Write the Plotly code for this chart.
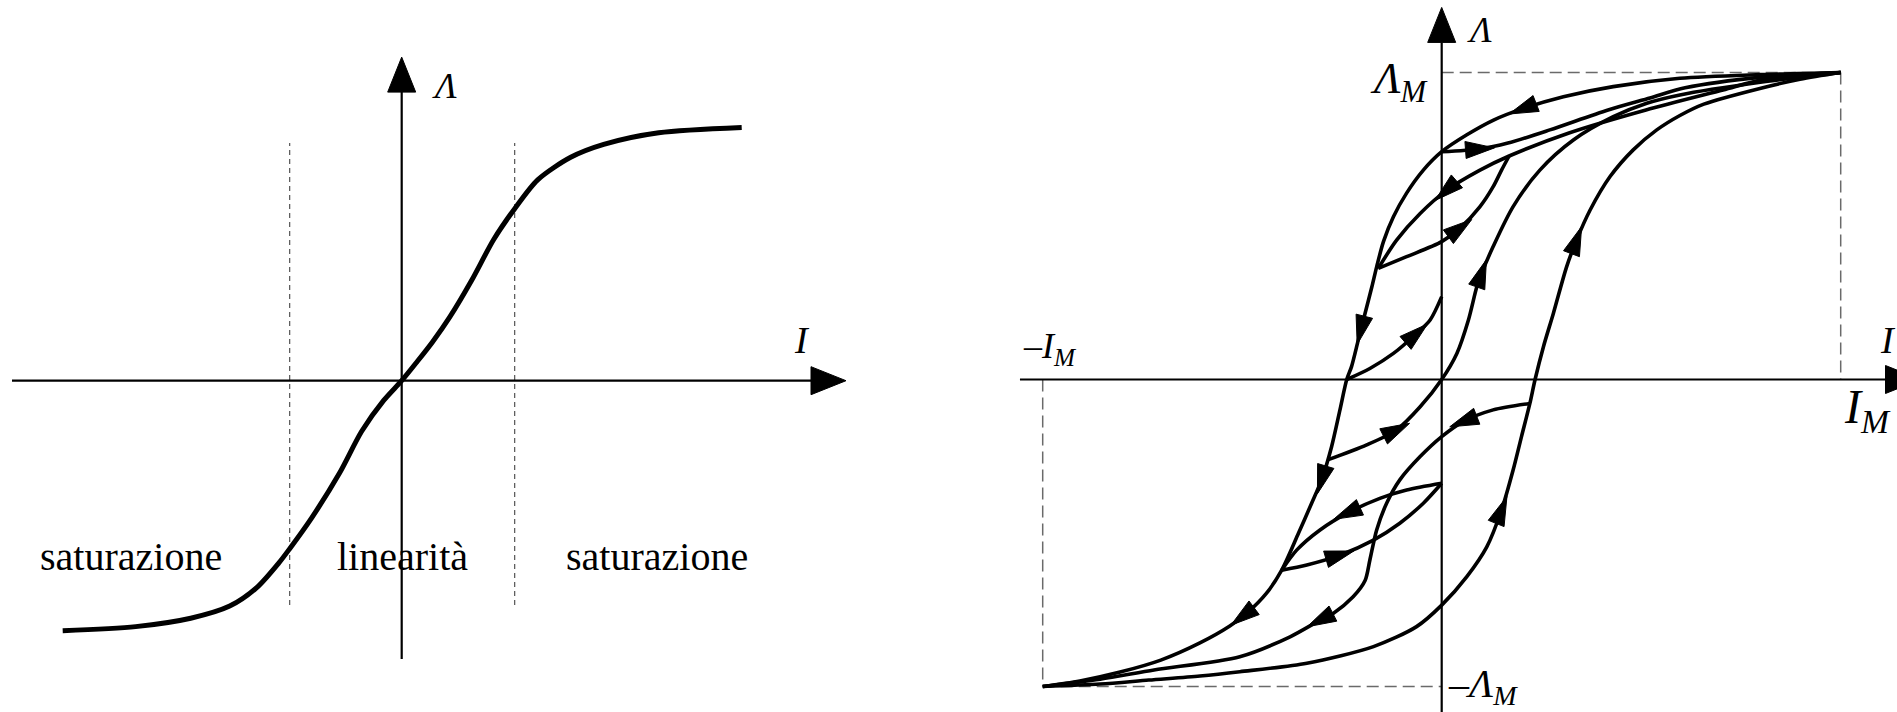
import plotly.graph_objects as go

FIG_W, FIG_H = 1897, 712
SERIF = "Liberation Serif"

# ---------------- left panel: magnetisation curve Λ(I) ----------------
curve_I = [-3.39, -2.66, -2.11, -1.72, -1.45, -1.23, -1.12, -0.90, -0.62, -0.40, -0.18, 0.00,
           0.15, 0.31, 0.48, 0.70, 0.92, 1.13, 1.36, 1.69, 2.02, 2.57, 3.40]
curve_L = [-0.988, -0.972, -0.939, -0.891, -0.818, -0.721, -0.664, -0.542, -0.364, -0.200, -0.078, 0.0,
           0.073, 0.154, 0.251, 0.397, 0.558, 0.680, 0.794, 0.883, 0.934, 0.980, 1.001]
linear_limits_I = [-1.12, 1.13]
linear_limits_L = [-0.887, 0.940]
zone_names = ["saturazione", "linearità", "saturazione"]
zone_I = [-2.71, 0.01, 2.55]
zone_L = [-0.693, -0.693, -0.693]

# ---------------- right panel: hysteresis loops (I/I_M, Λ/Λ_M) ----------------
desc_I = [1.0, 0.798, 0.597, 0.430, 0.305, 0.205, 0.130, 0.063, 0.0, -0.046, -0.088, -0.121, -0.146,
          -0.163, -0.175, -0.192, -0.209, -0.226, -0.238, -0.255, -0.276, -0.301, -0.326, -0.359,
          -0.401, -0.439, -0.489, -0.531, -0.606, -0.704, -0.806, -0.907, -1.0]
desc_L = [1.0, 0.993, 0.981, 0.954, 0.921, 0.883, 0.845, 0.797, 0.742, 0.682, 0.607, 0.530, 0.449,
          0.367, 0.302, 0.216, 0.129, 0.042, 0.0, -0.099, -0.219, -0.327, -0.403, -0.501,
          -0.621, -0.696, -0.762, -0.803, -0.858, -0.914, -0.953, -0.982, -1.0]

asc_I = [-1.0, -0.856, -0.734, -0.606, -0.506, -0.338, -0.171, -0.063, 0.0, 0.063, 0.113, 0.150, 0.179,
         0.200, 0.221, 0.234, 0.255, 0.280, 0.313, 0.338, 0.372, 0.422, 0.480, 0.539, 0.597, 0.657,
         0.800, 0.898, 1.0]
asc_L = [-1.0, -0.992, -0.979, -0.966, -0.952, -0.924, -0.870, -0.805, -0.735, -0.642, -0.545, -0.425,
         -0.295, -0.186, -0.078, 0.0, 0.107, 0.216, 0.367, 0.454, 0.552, 0.661, 0.748, 0.813, 0.860,
         0.897, 0.949, 0.978, 1.0]

recoil_top_I = [0.0, 0.096, 0.166, 0.271, 0.417, 0.522, 0.610, 0.803, 1.0]
recoil_top_L = [0.742, 0.751, 0.770, 0.813, 0.878, 0.917, 0.950, 0.985, 1.0]

minor_down_I = [1.0, 0.803, 0.705, 0.512, 0.319, 0.169, 0.096, 0.013, -0.054, -0.113, -0.159]
minor_down_L = [1.0, 0.976, 0.943, 0.878, 0.803, 0.728, 0.682, 0.617, 0.541, 0.454, 0.362]

minor_up_I = [-0.159, -0.088, 0.0, 0.046, 0.096, 0.129, 0.150, 0.169]
minor_up_L = [0.362, 0.400, 0.449, 0.493, 0.563, 0.628, 0.682, 0.728]

origin_rise_I = [-0.286, -0.188, -0.113, -0.054, 0.0, 0.038, 0.067, 0.088, 0.100, 0.129, 0.179, 0.246,
                 0.330, 0.430, 0.514, 0.597, 0.803, 1.0]
origin_rise_L = [-0.262, -0.213, -0.164, -0.089, 0.0, 0.085, 0.194, 0.302, 0.346, 0.433, 0.563, 0.682,
                 0.780, 0.856, 0.900, 0.927, 0.969, 1.0]

coercive_rise_I = [-0.238, -0.180, -0.121, -0.063, -0.029, 0.0]
coercive_rise_L = [0.0, 0.036, 0.085, 0.150, 0.194, 0.270]

low_return_I = [0.221, 0.129, 0.054, 0.0, -0.054, -0.105, -0.138, -0.163, -0.180, -0.192, -0.222,
                -0.272, -0.305, -0.380, -0.506, -0.721, -0.856, -1.0]
low_return_L = [-0.078, -0.099, -0.137, -0.186, -0.251, -0.327, -0.403, -0.490, -0.588, -0.655, -0.708,
                -0.762, -0.784, -0.838, -0.903, -0.946, -0.976, -1.0]

lens_upper_I = [0.0, -0.088, -0.155, -0.238, -0.305, -0.363, -0.401]
lens_upper_L = [-0.338, -0.360, -0.387, -0.436, -0.490, -0.555, -0.621]

lens_lower_I = [-0.401, -0.338, -0.255, -0.171, -0.105, -0.046, 0.0]
lens_lower_L = [-0.621, -0.604, -0.572, -0.523, -0.468, -0.403, -0.338]

# direction markers along the branches (I, Λ)
desc_arrows = [(0.204, 0.878), (-0.205, 0.161), (-0.301, -0.327), (-0.498, -0.774)]
asc_arrows = [(0.150, -0.425), (0.338, 0.454)]
recoil_top_arrows = [(0.096, 0.751)]
minor_down_arrows = [(0.013, 0.611)]
minor_up_arrows = [(0.046, 0.493)]
origin_rise_arrows = [(-0.113, -0.164), (0.100, 0.346)]
coercive_rise_arrows = [(-0.063, 0.150)]
low_return_arrows = [(0.054, -0.137), (-0.305, -0.784)]
lens_upper_arrows = [(-0.238, -0.436)]
lens_lower_arrows = [(-0.255, -0.572)]


# ---------------- geometry of the two panels (pixel frame of the page) ----------------
class Panel:
    def __init__(self, ox, oy, sx, sy, xa, ya):
        self.ox, self.oy, self.sx, self.sy = ox, oy, sx, sy
        self.xa, self.ya = xa, ya

    def to_px(self, i, l):
        return self.ox + i * self.sx, self.oy - l * self.sy

    def to_data(self, x, y):
        return (x - self.ox) / self.sx, (self.oy - y) / self.sy

    def xrange(self):
        return [self.to_data(0, 0)[0], self.to_data(FIG_W, 0)[0]]

    def yrange(self):
        return [self.to_data(0, FIG_H)[1], self.to_data(0, 0)[1]]


left = Panel(401.7, 380.7, 100.0, 253.0, "x", "y")
right = Panel(1441.7, 379.5, 399.0, 307.0, "x2", "y2")

fig = go.Figure()


def add_line(panel, xs, ys, width, color="black", dash=None, spline=False):
    fig.add_trace(go.Scatter(
        x=xs, y=ys, mode="lines", xaxis=panel.xa, yaxis=panel.ya,
        line=dict(color=color, width=width, dash=dash,
                  shape="spline" if spline else "linear", smoothing=0.8),
        hoverinfo="skip", showlegend=False))


def add_head(panel, tip, d, length, width):
    """Filled triangular head; tip and direction d given in page pixels."""
    tx, ty = tip
    dx, dy = d
    n = (dx * dx + dy * dy) ** 0.5
    dx, dy = dx / n, dy / n
    bx, by = tx - dx * length, ty - dy * length
    px, py = -dy, dx
    pts = [(tx, ty), (bx + px * width / 2, by + py * width / 2),
           (bx - px * width / 2, by - py * width / 2), (tx, ty)]
    data = [panel.to_data(x, y) for x, y in pts]
    fig.add_trace(go.Scatter(
        x=[p[0] for p in data], y=[p[1] for p in data], mode="lines",
        xaxis=panel.xa, yaxis=panel.ya, fill="toself", fillcolor="black",
        line=dict(color="black", width=1), hoverinfo="skip", showlegend=False))


def add_axis(panel, start, end, head_len, head_w, width):
    """Axis from start to end (data units) with an arrowhead at end."""
    sx, sy = panel.to_px(*start)
    ex, ey = panel.to_px(*end)
    d = (ex - sx, ey - sy)
    n = (d[0] ** 2 + d[1] ** 2) ** 0.5
    bx, by = ex - d[0] / n * head_len, ey - d[1] / n * head_len
    b = panel.to_data(bx, by)
    add_line(panel, [start[0], b[0]], [start[1], b[1]], width)
    add_head(panel, (ex, ey), d, head_len, head_w)


def add_curve_arrows(panel, xs, ys, marks, length=29, width=17):
    pts = [panel.to_px(a, b) for a, b in zip(xs, ys)]
    for mi, ml in marks:
        mx, my = panel.to_px(mi, ml)
        best = None
        for k in range(len(pts) - 1):
            (x0, y0), (x1, y1) = pts[k], pts[k + 1]
            vx, vy = x1 - x0, y1 - y0
            seg = vx * vx + vy * vy
            t = max(0.0, min(1.0, ((mx - x0) * vx + (my - y0) * vy) / seg))
            cx, cy = x0 + t * vx, y0 + t * vy
            dist = (cx - mx) ** 2 + (cy - my) ** 2
            if best is None or dist < best[0]:
                best = (dist, cx, cy, vx, vy)
        _, cx, cy, vx, vy = best
        n = (vx * vx + vy * vy) ** 0.5
        tip = (cx + vx / n * length / 2, cy + vy / n * length / 2)
        add_head(panel, tip, (vx, vy), length, width)


# ---------------- left panel ----------------
for xi in linear_limits_I:
    add_line(left, [xi, xi], linear_limits_L, 1.1, color="#444", dash="5px,4px")
add_axis(left, (-3.897, 0), (4.443, 0), 35, 28, 2.2)
add_axis(left, (0, -1.100), (0, 1.279), 35, 28, 2.2)
add_line(left, curve_I, curve_L, 5, spline=True)

# ---------------- right panel ----------------
guide = dict(color="#6a6a6a", width=1.5, dash="12px,6px")
add_line(right, [0, 1], [1, 1], guide["width"], guide["color"], guide["dash"])
add_line(right, [1, 1], [1, 0], guide["width"], guide["color"], guide["dash"])
add_line(right, [-1, -1], [0, -1], guide["width"], guide["color"], guide["dash"])
add_line(right, [-1, 0], [-1, -1], guide["width"], guide["color"], guide["dash"])
add_axis(right, (-1.057, 0), (1.20, 0), 35, 28, 2.2)
add_axis(right, (0, -1.09), (0, 1.212), 35, 28, 2.2)

branches = [
    (desc_I, desc_L, desc_arrows),
    (asc_I, asc_L, asc_arrows),
    (recoil_top_I, recoil_top_L, recoil_top_arrows),
    (minor_down_I, minor_down_L, minor_down_arrows),
    (minor_up_I, minor_up_L, minor_up_arrows),
    (origin_rise_I, origin_rise_L, origin_rise_arrows),
    (coercive_rise_I, coercive_rise_L, coercive_rise_arrows),
    (low_return_I, low_return_L, low_return_arrows),
    (lens_upper_I, lens_upper_L, lens_upper_arrows),
    (lens_lower_I, lens_lower_L, lens_lower_arrows),
]
for bi, bl, marks in branches:
    add_line(right, bi, bl, 3.6, spline=True)
for bi, bl, marks in branches:
    add_curve_arrows(right, bi, bl, marks)

# ---------------- labels ----------------
ann = []


def label(panel, x, y, text, size, xanchor="left", yanchor="middle", italic=True):
    ann.append(dict(
        x=x, y=y, xref=panel.xa, yref=panel.ya, text=f"<i>{text}</i>" if italic else text,
        showarrow=False, xanchor=xanchor, yanchor=yanchor,
        font=dict(family=SERIF, size=size, color="black")))


for name, zi, zl in zip(zone_names, zone_I, zone_L):
    label(left, zi, zl, name, 40, xanchor="center", italic=False)
label(left, 0.28, 1.165, "Λ", 36)
label(left, 3.90, 0.160, "I", 38)

label(right, 0.058, 1.140, "Λ", 36)
label(right, -0.026, 0.972, "Λ<sub>M</sub>", 44, xanchor="right")
label(right, 0.012, -0.998, "–Λ<sub>M</sub>", 40)
label(right, -1.054, 0.100, "–I<sub>M</sub>", 36)
label(right, 1.003, -0.099, "I<sub>M</sub>", 48)
label(right, 1.094, 0.129, "I", 38)

axis_common = dict(visible=False, showgrid=False, zeroline=False, fixedrange=True)
fig.update_layout(
    width=FIG_W, height=FIG_H, margin=dict(l=0, r=0, t=0, b=0),
    paper_bgcolor="white", plot_bgcolor="white", showlegend=False,
    xaxis=dict(range=left.xrange(), domain=[0, 1], **axis_common),
    yaxis=dict(range=left.yrange(), domain=[0, 1], **axis_common),
    xaxis2=dict(range=right.xrange(), domain=[0, 1], overlaying="x", **axis_common),
    yaxis2=dict(range=right.yrange(), domain=[0, 1], overlaying="y", anchor="x2", **axis_common),
    annotations=ann,
)

fig.write_html("out.html", config={"displayModeBar": False})
